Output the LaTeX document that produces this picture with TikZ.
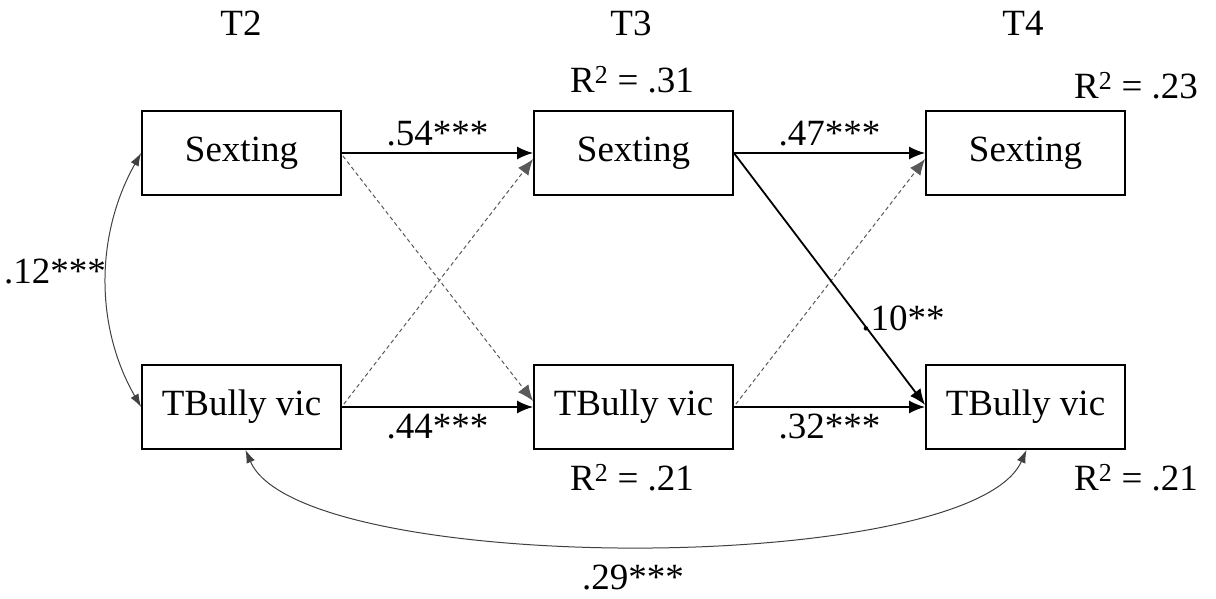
\documentclass[tikz,border=0pt]{standalone}
\usepackage{fontspec}
\setmainfont{Liberation Serif}
\usetikzlibrary{arrows.meta,calc}
\begin{document}
\begin{tikzpicture}[x=1pt,y=-1pt,
  box/.style={draw,line width=1.8pt,minimum width=199pt,minimum height=84pt,inner sep=0pt,font=\fontsize{37}{40}\selectfont},
  lbl/.style={inner sep=0pt,font=\fontsize{37}{40}\selectfont},
  path/.style={line width=1.8pt,-{Latex[length=16pt,width=13pt]}},
  cross/.style={line width=1pt,dashed,dash pattern=on 4pt off 3pt,draw=black!65,-{Latex[length=16pt,width=13pt]}},
  cov/.style={line width=1pt,draw=black!75,{Latex[length=13pt,width=9pt]}-{Latex[length=13pt,width=9pt]}}]
\useasboundingbox (0,0) rectangle (1216,599);
\node[box] (s2) at (241.5,153) {Sexting};
\node[box] (s3) at (633.5,153) {Sexting};
\node[box] (s4) at (1025.5,153) {Sexting};
\node[box] (b2) at (241.5,407) {TBully vic};
\node[box] (b3) at (633.5,407) {TBully vic};
\node[box] (b4) at (1025.5,407) {TBully vic};
\node[lbl] (t2) at (241,23) {T2};
\node[lbl] (t3) at (631,23) {T3};
\node[lbl] (t4) at (1023,23) {T4};
\node[lbl] (r3s) at (632,80) {R\textsuperscript{2} = .31};
\node[lbl] (r4s) at (1136,86) {R\textsuperscript{2} = .23};
\node[lbl] (r3b) at (632,478) {R\textsuperscript{2} = .21};
\node[lbl] (r4b) at (1136,478) {R\textsuperscript{2} = .21};
% cross-lagged dashed
\draw[cross] ($(s2.east)+(1,3)$) -- ($(b3.west)+(0,-6)$);
\draw[cross] ($(b2.east)+(2,-3)$) -- ($(s3.west)+(0,6)$);
\draw[cross] ($(b3.east)+(2,-3)$) -- ($(s4.west)+(0,6)$);
% autoregressive
\draw[path] (s2.east) -- node[lbl,above=6pt] (a54) {.54***} (s3.west);
\draw[path] (s3.east) -- node[lbl,above=6pt] (a47) {.47***} (s4.west);
\draw[path] (b2.east) -- node[lbl,below=6pt] (a44) {.44***} (b3.west);
\draw[path] (b3.east) -- node[lbl,below=6pt] (a32) {.32***} (b4.west);
\draw[path] (s3.east) -- ($(b4.west)+(0,-2)$);
\node[lbl] (a10) at (903,318) {.10**};
% covariances
\draw[cov] (s2.west) .. controls (95,235) and (95,327) .. (b2.west);
\node[lbl] (c12) at (55,272) {.12***};
\draw[cov] ($(b2.south)+(4,0)$) .. controls (300,577) and (970,577) .. ($(b4.south)+(1,0)$);
\node[lbl] (c29) at (633,578) {.29***};
\end{tikzpicture}
\end{document}
